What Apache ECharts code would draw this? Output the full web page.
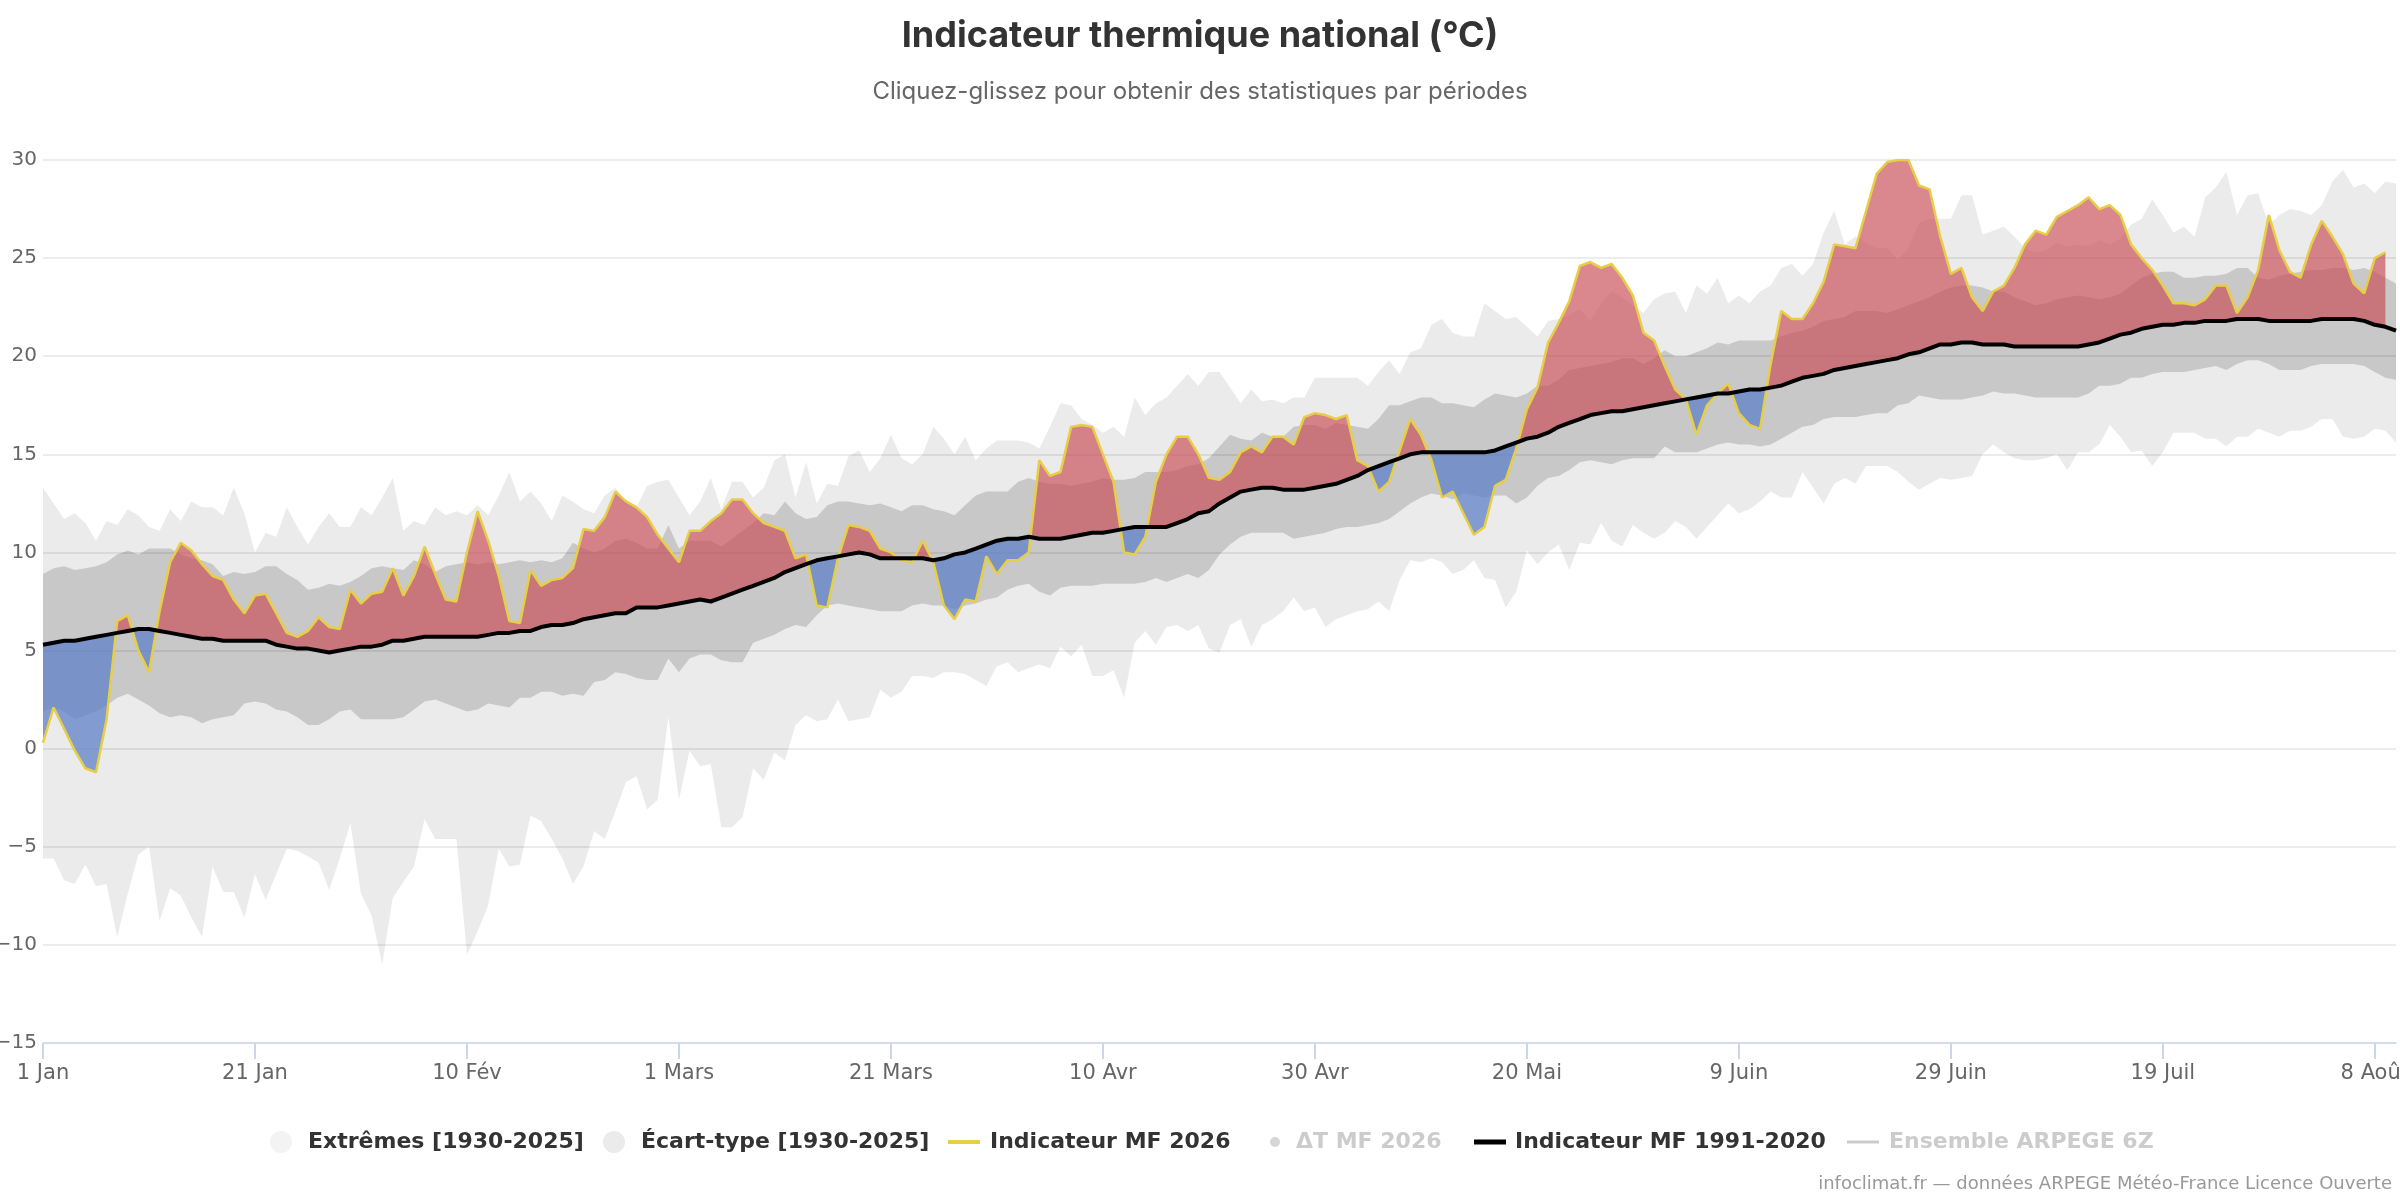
<!DOCTYPE html>
<html>
<head>
<meta charset="utf-8">
<script src="https://cdn.jsdelivr.net/npm/echarts@6/dist/echarts.min.js"></script>
<style>html,body{margin:0;padding:0;background:#fff;overflow:hidden}#chart{width:2400px;height:1200px}</style>
</head>
<body>
<div id="chart"></div>
<script>
const tickLabels = ['1 Jan','21 Jan','10 Fév','1 Mars','21 Mars','10 Avr','30 Avr','20 Mai','9 Juin','29 Juin','19 Juil','8 Août'];

const normale = [5.3,5.4,5.5,5.5,5.6,5.7,5.8,5.9,6.0,6.1,
6.1,6.0,5.9,5.8,5.7,5.6,5.6,5.5,5.5,5.5,
5.5,5.5,5.3,5.2,5.1,5.1,5.0,4.9,5.0,5.1,
5.2,5.2,5.3,5.5,5.5,5.6,5.7,5.7,5.7,5.7,
5.7,5.7,5.8,5.9,5.9,6.0,6.0,6.2,6.3,6.3,
6.4,6.6,6.7,6.8,6.9,6.9,7.2,7.2,7.2,7.3,
7.4,7.5,7.6,7.5,7.7,7.9,8.1,8.3,8.5,8.7,
9.0,9.2,9.4,9.6,9.7,9.8,9.9,10.0,9.9,9.7,
9.7,9.7,9.7,9.7,9.6,9.7,9.9,10.0,10.2,10.4,
10.6,10.7,10.7,10.8,10.7,10.7,10.7,10.8,10.9,11.0,
11.0,11.1,11.2,11.3,11.3,11.3,11.3,11.5,11.7,12.0,
12.1,12.5,12.8,13.1,13.2,13.3,13.3,13.2,13.2,13.2,
13.3,13.4,13.5,13.7,13.9,14.2,14.4,14.6,14.8,15.0,
15.1,15.1,15.1,15.1,15.1,15.1,15.1,15.2,15.4,15.6,
15.8,15.9,16.1,16.4,16.6,16.8,17.0,17.1,17.2,17.2,
17.3,17.4,17.5,17.6,17.7,17.8,17.9,18.0,18.1,18.1,
18.2,18.3,18.3,18.4,18.5,18.7,18.9,19.0,19.1,19.3,
19.4,19.5,19.6,19.7,19.8,19.9,20.1,20.2,20.4,20.6,
20.6,20.7,20.7,20.6,20.6,20.6,20.5,20.5,20.5,20.5,
20.5,20.5,20.5,20.6,20.7,20.9,21.1,21.2,21.4,21.5,
21.6,21.6,21.7,21.7,21.8,21.8,21.8,21.9,21.9,21.9,
21.8,21.8,21.8,21.8,21.8,21.9,21.9,21.9,21.9,21.8,
21.6,21.5,21.3];

const indicateur = [0.3,2.1,1.0,-0.1,-1.0,-1.2,1.5,6.5,6.8,5.0,
3.9,7.0,9.5,10.5,10.1,9.4,8.8,8.6,7.6,6.9,
7.8,7.9,6.9,5.9,5.7,6.0,6.7,6.2,6.1,8.1,
7.4,7.9,8.0,9.2,7.8,8.8,10.3,8.9,7.6,7.5,
10.0,12.1,10.6,8.8,6.5,6.4,9.1,8.3,8.6,8.7,
9.2,11.2,11.1,11.8,13.1,12.6,12.3,11.8,10.9,10.2,
9.5,11.1,11.1,11.6,12.0,12.7,12.7,12.0,11.5,11.3,
11.1,9.7,9.9,7.3,7.2,9.7,11.4,11.3,11.1,10.2,
10.0,9.6,9.5,10.6,9.5,7.3,6.6,7.6,7.5,9.8,
8.9,9.6,9.6,10.0,14.7,13.9,14.1,16.4,16.5,16.4,
15.0,13.6,10.0,9.9,10.8,13.6,15.0,15.9,15.9,15.0,
13.8,13.7,14.1,15.1,15.4,15.1,15.9,15.9,15.5,16.9,
17.1,17.0,16.8,17.0,14.7,14.4,13.1,13.6,15.2,16.8,
16.0,14.7,12.8,13.1,12.0,10.9,11.3,13.4,13.7,15.3,
17.3,18.4,20.7,21.7,22.8,24.6,24.8,24.5,24.7,24.0,
23.1,21.2,20.8,19.5,18.3,17.8,16.0,17.5,18.1,18.6,
17.1,16.5,16.3,19.6,22.3,21.9,21.9,22.7,23.8,25.7,
25.6,25.5,27.4,29.3,29.9,30.0,30.0,28.7,28.5,26.1,
24.2,24.5,23.0,22.3,23.3,23.6,24.5,25.7,26.4,26.2,
27.1,27.4,27.7,28.1,27.5,27.7,27.2,25.7,25.0,24.4,
23.6,22.7,22.7,22.6,22.9,23.6,23.6,22.2,23.0,24.4,
27.2,25.4,24.3,24.0,25.7,26.9,26.1,25.2,23.7,23.2,
25.0,25.3];

const extremeMax = [13.3,12.5,11.7,12.0,11.5,10.6,11.6,11.4,12.2,11.9,
11.3,11.1,12.2,11.6,12.6,12.3,12.3,11.9,13.3,12.0,
10.0,11.0,10.8,12.3,11.3,10.4,11.3,12.0,11.3,11.3,
12.3,11.9,12.8,13.8,11.1,11.6,11.4,12.3,11.9,12.1,
11.9,12.4,11.9,12.9,14.1,12.6,13.1,12.5,11.6,12.9,
12.6,12.2,12.0,12.9,13.3,12.6,12.3,13.4,13.6,13.7,
12.8,11.9,12.6,13.8,12.2,13.6,13.6,12.8,13.3,14.7,
15.0,12.8,14.6,12.5,13.5,13.4,14.9,15.2,14.1,14.8,
16.0,14.8,14.5,15.0,16.4,15.8,15.0,15.9,14.7,15.3,
15.7,15.7,15.7,15.6,15.3,16.4,17.6,17.5,16.8,16.5,
16.1,16.4,15.9,17.9,17.0,17.6,17.9,18.5,19.1,18.5,
19.2,19.2,18.4,17.6,18.3,17.7,17.8,17.6,17.9,17.9,
18.9,18.9,18.9,18.9,18.9,18.5,19.2,19.8,19.1,20.2,
20.4,21.6,21.9,21.2,21.0,21.0,22.7,22.3,21.9,22.0,
21.5,21.0,21.8,21.9,22.1,22.4,21.8,22.7,23.3,23.0,
22.6,22.2,22.9,23.2,23.3,22.2,23.6,23.2,24.0,22.7,
23.1,22.7,23.3,23.6,24.5,24.7,24.1,24.7,26.3,27.4,
25.7,26.1,25.8,25.5,25.5,24.9,25.5,26.8,27.0,27.0,
27.0,28.2,28.2,26.2,26.4,26.6,26.1,25.5,25.3,25.4,
25.8,25.6,25.7,25.6,25.9,25.7,26.0,26.7,27.0,28.0,
27.2,26.3,26.6,26.1,28.1,28.6,29.4,27.2,28.2,28.3,
26.7,27.2,27.5,27.4,27.2,27.7,28.9,29.5,28.6,28.8,
28.3,28.9,28.8];

const extremeMin = [-5.6,-5.6,-6.7,-6.9,-5.9,-7.0,-6.9,-9.6,-7.4,-5.4,
-5.0,-8.8,-7.1,-7.5,-8.6,-9.6,-6.0,-7.3,-7.3,-8.6,
-6.4,-7.7,-6.4,-5.1,-5.2,-5.5,-5.8,-7.2,-5.6,-3.8,
-7.4,-8.5,-11.0,-7.6,-6.8,-6.0,-3.6,-4.6,-4.6,-4.6,
-10.5,-9.3,-8.0,-5.1,-6.0,-5.9,-3.4,-3.7,-4.6,-5.6,
-6.9,-6.0,-4.2,-4.6,-3.2,-1.7,-1.4,-3.1,-2.6,1.6,
-2.6,-0.1,-0.9,-0.8,-4.0,-4.0,-3.5,-1.0,-1.6,-0.2,
-0.6,1.2,1.7,1.4,1.5,2.5,1.4,1.5,1.6,3.0,
2.6,2.9,3.7,3.7,3.6,3.9,3.9,3.8,3.5,3.2,
4.2,4.4,3.9,4.1,4.3,4.1,5.2,4.7,5.3,3.7,
3.7,4.0,2.6,5.4,6.0,5.3,6.2,6.3,6.0,6.3,
5.1,4.9,6.3,6.6,5.2,6.3,6.6,7.0,7.7,7.0,
7.2,6.2,6.6,6.8,7.0,7.1,7.5,7.0,8.6,9.6,
9.5,9.7,9.5,8.9,9.1,9.6,8.7,8.6,7.2,8.0,
10.1,9.4,10.0,10.4,9.1,10.5,10.4,11.5,10.6,10.3,
11.4,11.0,10.7,11.0,11.6,11.3,10.7,11.3,11.9,12.5,
12.0,12.2,12.6,13.1,12.8,12.8,14.1,13.3,12.5,13.5,
13.8,13.5,14.4,14.4,14.4,14.1,13.6,13.2,13.5,13.8,
13.7,13.8,13.9,15.0,15.5,15.1,14.8,14.7,14.7,14.8,
15.0,14.2,15.1,15.1,15.5,16.5,15.9,15.1,15.2,14.4,
15.1,16.1,16.1,16.1,15.8,15.8,15.4,15.9,15.9,16.3,
16.1,15.9,16.2,16.2,16.4,16.8,16.8,15.9,15.8,15.9,
16.3,16.2,15.6];

const ecartMax = [8.9,9.2,9.3,9.1,9.2,9.3,9.5,9.9,10.1,9.9,
10.2,10.2,10.2,9.9,9.7,9.6,9.4,8.8,9.0,8.9,
9.0,9.3,9.3,8.9,8.6,8.1,8.2,8.4,8.3,8.5,
8.8,9.2,9.3,9.2,9.1,9.6,9.4,9.0,9.3,9.4,
9.5,9.4,9.5,9.4,9.5,9.6,9.5,9.6,9.5,9.7,
10.5,10.2,10.0,10.2,10.6,10.7,10.5,10.2,10.2,11.4,
10.2,10.6,10.6,10.6,10.3,10.7,11.1,11.5,12.0,11.9,
12.6,12.0,11.7,11.8,12.4,12.6,12.6,12.5,12.4,12.5,
12.3,12.1,12.4,12.4,12.2,12.1,11.9,12.4,12.9,13.1,
13.1,13.1,13.6,13.8,13.6,13.5,13.5,13.4,13.5,13.6,
13.8,13.7,13.7,13.8,14.1,14.1,14.1,14.2,14.4,14.5,
14.8,15.4,16.0,15.8,15.7,16.1,15.9,15.9,16.4,16.5,
16.5,16.3,16.6,16.5,16.4,16.3,16.8,17.5,17.5,17.7,
17.9,17.9,17.6,17.6,17.5,17.4,17.8,18.1,18.0,17.9,
18.1,18.5,18.5,18.8,19.3,19.4,19.5,19.6,19.7,19.9,
19.9,19.6,19.9,20.3,20.0,20.0,20.2,20.4,20.7,20.6,
20.8,20.8,20.8,20.8,21.0,21.2,21.3,21.5,21.8,21.9,
22.0,22.3,22.3,22.3,22.2,22.4,22.6,22.8,23.0,23.3,
23.5,23.6,23.6,23.5,23.3,23.3,23.0,22.8,22.6,22.7,
22.9,23.0,23.1,23.0,22.9,23.0,23.2,23.6,24.0,24.2,
24.3,24.3,24.0,24.0,24.1,24.1,24.2,24.5,24.5,24.0,
23.9,24.1,24.2,24.3,24.4,24.4,24.5,24.5,24.4,24.5,
24.3,24.0,23.7];

const ecartMin = [1.9,2.1,1.9,1.5,1.7,1.9,2.2,2.6,2.8,2.5,
2.2,1.8,1.6,1.7,1.6,1.3,1.5,1.6,1.7,2.3,
2.4,2.3,2.0,1.9,1.6,1.2,1.2,1.5,1.9,2.0,
1.5,1.5,1.5,1.5,1.6,2.0,2.4,2.5,2.3,2.1,
1.9,2.0,2.3,2.2,2.1,2.6,2.6,2.9,2.9,2.7,
2.8,2.7,3.4,3.5,3.9,3.8,3.6,3.5,3.5,4.6,
3.9,4.6,4.8,4.8,4.5,4.4,4.4,5.4,5.6,5.8,
6.1,6.3,6.2,6.8,7.3,7.4,7.3,7.2,7.1,7.0,
7.0,7.0,7.3,7.4,7.3,7.3,7.1,7.3,7.4,7.6,
7.7,8.1,8.3,8.4,8.0,7.8,8.2,8.3,8.3,8.3,
8.4,8.4,8.4,8.4,8.5,8.7,8.5,8.7,8.9,8.7,
9.1,9.9,10.4,10.8,11.0,11.0,11.0,11.0,10.7,10.8,
10.9,11.0,11.2,11.3,11.3,11.4,11.5,11.7,12.1,12.5,
12.8,13.0,12.9,12.7,13.0,12.9,12.8,12.9,12.9,12.5,
12.8,13.4,13.8,13.9,14.2,14.6,14.7,14.6,14.5,14.7,
14.8,14.8,14.8,15.4,15.1,15.1,15.1,15.3,15.5,15.6,
15.5,15.5,15.4,15.5,15.8,16.1,16.4,16.5,16.8,16.9,
16.9,16.9,17.0,17.1,17.1,17.5,17.6,18.0,17.9,17.8,
17.8,17.8,17.9,18.0,18.2,18.1,18.1,18.0,17.9,17.9,
17.9,17.9,17.9,18.1,18.5,18.5,18.6,18.9,18.9,19.1,
19.2,19.2,19.2,19.3,19.4,19.5,19.3,19.6,19.8,19.8,
19.6,19.3,19.3,19.3,19.5,19.6,19.6,19.6,19.6,19.5,
19.2,18.9,18.8];

// ---- build series data from the arrays above (x = day index, leap-year calendar) ----
const LAST_DAY = 222;
const days = normale.map((_, i) => i);
const pairs = arr => arr.map((v, i) => [i, v]);

// indicator vs normal, with the crossing points inserted
const devX = [], devInd = [], devNorm = [];
for (let i = 0; i < indicateur.length; i++) {
  const a = indicateur[i], n = normale[i];
  devX.push(i); devInd.push(a); devNorm.push(n);
  if (i + 1 < indicateur.length) {
    const d0 = a - n, d1 = indicateur[i + 1] - normale[i + 1];
    if (d0 * d1 < 0) {
      const f = d0 / (d0 - d1);
      const y = a + (indicateur[i + 1] - a) * f;
      devX.push(i + f); devInd.push(y); devNorm.push(y);
    }
  }
}
const redTop = devInd.map((v, i) => Math.max(v, devNorm[i]));
const blueBottom = devInd.map((v, i) => Math.min(v, devNorm[i]));

// one filled polygon between two curves, drawn through the axes (api.coord)
function bandSeries(name, xs, lo, hi, fill) {
  return {
    type: 'custom', name: name, silent: true, clip: true,
    data: xs.map((x, i) => [x, lo[i], hi[i]]),
    encode: { x: 0, y: [1, 2] },
    itemStyle: { color: fill },
    renderItem: function (params, api) {
      if (params.dataIndex !== 0) return null;
      const pts = [];
      for (let i = 0; i < xs.length; i++) pts.push(api.coord([xs[i], hi[i]]));
      for (let i = xs.length - 1; i >= 0; i--) pts.push(api.coord([xs[i], lo[i]]));
      return { type: 'polygon', shape: { points: pts }, style: { fill: fill } };
    }
  };
}

const tickValues = tickLabels.map((_, k) => k * 20);
const labelFor = v => (v % 20 === 0 && tickLabels[v / 20]) ? tickLabels[v / 20] : '';
const lineBar = h => 'path://M0,0 L0,0 M32,22 L32,22 M0,' + (11 - h / 2) + ' H32 V' + (11 + h / 2) + ' H0 Z';
const smallDot = 'path://M0,0 L0,0 M32,22 L32,22 M11,11 A5,5 0 1,0 21,11 A5,5 0 1,0 11,11 Z';

const legendText = { fontFamily: 'DejaVu Sans', fontWeight: 'bold', fontSize: 22, color: '#333333' };
function legendAt(left, item, padLeft, hiddenByDefault) {
  const sel = {};
  if (hiddenByDefault) sel[item.name] = false;
  return {
    left: left, top: 1131, padding: 0, orient: 'horizontal',
    itemWidth: 32, itemHeight: 22, inactiveColor: '#cccccc',
    itemStyle: { borderWidth: 0 },
    textStyle: Object.assign({}, legendText, { padding: [0, 0, 0, padLeft] }),
    selected: sel,
    data: [item]
  };
}

const chart = echarts.init(document.getElementById('chart'), null, { renderer: 'canvas' });
chart.setOption({
  animation: false,
  backgroundColor: '#ffffff',
  title: [
    { text: 'Indicateur thermique national (°C)', left: 'center', top: 18, padding: 0,
      textStyle: { fontFamily: 'Inter', fontWeight: 'bold', fontSize: 36, color: '#333333' } },
    { text: 'Cliquez-glissez pour obtenir des statistiques par périodes', left: 'center', top: 80, padding: 0,
      textStyle: { fontFamily: 'Inter', fontWeight: 'normal', fontSize: 24, color: '#666666' } },
    { text: 'infoclimat.fr — données ARPEGE Météo-France Licence Ouverte', right: 8, top: 1175, padding: 0,
      textStyle: { fontFamily: 'DejaVu Sans', fontWeight: 'normal', fontSize: 18, color: '#999999' } }
  ],
  grid: { left: 43, right: 4, top: 160, bottom: 157, containLabel: false, outerBoundsMode: 'none' },
  xAxis: {
    type: 'value', min: 0, max: LAST_DAY,
    axisLine: { onZero: false, lineStyle: { color: '#ccd6eb', width: 1.5 } },
    axisTick: { show: true, customValues: tickValues, length: 16, lineStyle: { color: '#ccd6eb', width: 2 } },
    axisLabel: { customValues: tickValues, formatter: labelFor, fontFamily: 'DejaVu Sans', fontSize: 21, color: '#666666', margin: 20 },
    splitLine: { show: false }
  },
  yAxis: {
    type: 'value', min: -15, max: 30, interval: 5,
    axisLine: { show: false }, axisTick: { show: false },
    splitLine: { lineStyle: { color: '#e6e6e6', width: 1.5 } },
    axisLabel: { fontFamily: 'DejaVu Sans', fontSize: 20, color: '#666666', margin: 6,
      formatter: v => (v < 0 ? '\u2212' + Math.abs(v) : String(v)) }
  },
  legend: [
    legendAt(270, { name: 'Extrêmes [1930-2025]', icon: 'circle', itemStyle: { color: '#f3f3f3' } }, 6, false),
    legendAt(603, { name: 'Écart-type [1930-2025]', icon: 'circle', itemStyle: { color: '#ebebeb' } }, 6, false),
    legendAt(948, { name: 'Indicateur MF 2026', icon: lineBar(4), itemStyle: { color: '#e6cf45' } }, 5, false),
    legendAt(1259, { name: 'ΔT MF 2026', icon: smallDot }, 0, true),
    legendAt(1474, { name: 'Indicateur MF 1991-2020', icon: lineBar(5), itemStyle: { color: '#000000' } }, 4, false),
    legendAt(1847, { name: 'Ensemble ARPEGE 6Z', icon: lineBar(3) }, 5, true)
  ],
  series: [
    bandSeries('Extrêmes [1930-2025]', days, extremeMin, extremeMax, 'rgba(0,0,0,0.078)'),
    bandSeries('Écart-type [1930-2025]', days, ecartMin, ecartMax, 'rgba(0,0,0,0.15)'),
    bandSeries('devRed', devX, devNorm, redTop, 'rgba(200,80,88,0.68)'),
    bandSeries('devBlue', devX, blueBottom, devNorm, 'rgba(95,128,200,0.75)'),
    { type: 'line', name: 'Indicateur MF 2026', data: pairs(indicateur), symbol: 'none', showSymbol: false, silent: true,
      itemStyle: { color: '#e6cf45' }, lineStyle: { color: '#e6cf45', width: 2.5 } },
    { type: 'scatter', name: 'ΔT MF 2026', data: [], itemStyle: { color: '#999999' } },
    { type: 'line', name: 'Indicateur MF 1991-2020', data: pairs(normale), symbol: 'none', showSymbol: false, silent: true,
      itemStyle: { color: '#000000' }, lineStyle: { color: '#000000', width: 4 } },
    { type: 'line', name: 'Ensemble ARPEGE 6Z', data: [], symbol: 'none', itemStyle: { color: '#cccccc' }, lineStyle: { color: '#cccccc', width: 3 } }
  ]
});
</script>
</body>
</html>
